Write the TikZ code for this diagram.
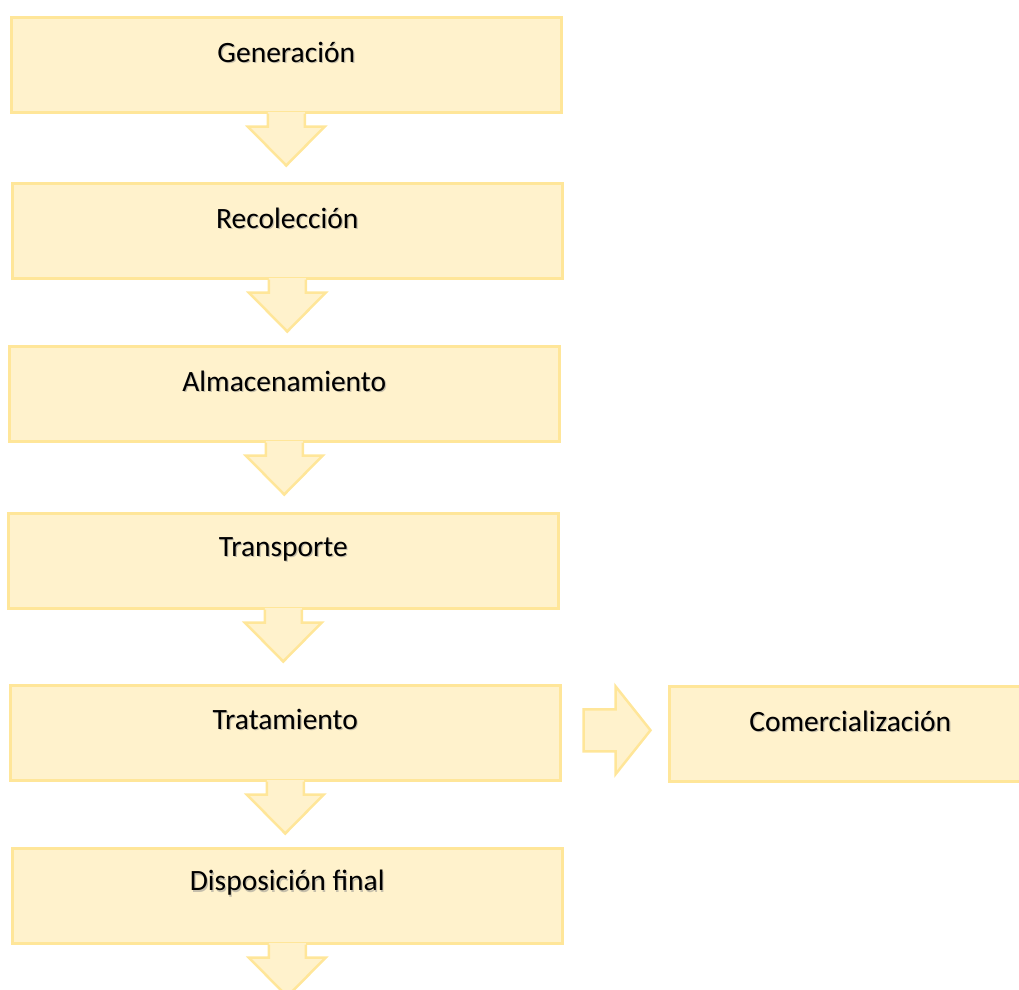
\documentclass[tikz,border=0pt]{standalone}
\usepackage{fontspec}
\setmainfont{Carlito}
\usetikzlibrary{calc}
\definecolor{boxfill}{HTML}{FFF2CC}
\definecolor{boxline}{HTML}{FFE699}
\newcommand\downblock[1]{%
  \fill[boxfill] ($(#1.south)+(-18.5,-1.3)$) -- ($(#1.south)+(-18.5,13)$) -- ($(#1.south)+(-38.5,13)$) -- ($(#1.south)+(0,52)$) -- ($(#1.south)+(38.5,13)$) -- ($(#1.south)+(18.5,13)$) -- ($(#1.south)+(18.5,-1.3)$) -- cycle;
  \draw[arrowline] ($(#1.south)+(-18.5,0)$) -- ($(#1.south)+(-18.5,13)$) -- ($(#1.south)+(-38.5,13)$) -- ($(#1.south)+(0,52)$) -- ($(#1.south)+(38.5,13)$) -- ($(#1.south)+(18.5,13)$) -- ($(#1.south)+(18.5,0)$);
}
\newcommand\stagelabel[4]{%
  \node[stagetext, text=black!45, opacity=0.5] (#1s) at ($(#2.north)+(1.2,#3+1.2)$) {#4};
  \node[stagetext] (#1) at ($(#2.north)+(0,#3)$) {#4};
}
\begin{document}
\begin{tikzpicture}[x=1pt,y=-1pt,
  stage/.style={draw=boxline, fill=boxfill, line width=2.5pt, minimum width=550pt, minimum height=95pt, inner sep=0pt, anchor=north west},
  stagetext/.style={font=\fontsize{29.5}{33}\selectfont, text=black, inner sep=0pt},
  arrowline/.style={draw=boxline, line width=2.5pt, line join=miter},
  blockarrow/.style={draw=boxline, fill=boxfill, line width=2.5pt, line join=miter}]
\useasboundingbox (0,0) rectangle (1019,989);
\clip (0,0) rectangle (1019,989);
\node[stage] (b1) at (10,16) {};
\node[stage] (b2) at (11,182) {};
\node[stage] (b3) at (8,345) {};
\node[stage] (b4) at (7,512) {};
\node[stage] (b5) at (9,684) {};
\node[stage] (b6) at (11,847) {};
\node[stage, minimum width=362pt] (b7) at (668,685) {};
\downblock{b1}
\downblock{b2}
\downblock{b3}
\downblock{b4}
\downblock{b5}
\downblock{b6}
\coordinate (ra) at ($(b5.east)+(22,-2.5)$);
\draw[blockarrow] ($(ra)+(0,-21)$) -- ($(ra)+(32,-21)$) -- ($(ra)+(32,-44)$) -- ($(ra)+(67,0)$) -- ($(ra)+(32,44)$) -- ($(ra)+(32,21)$) -- ($(ra)+(0,21)$) -- cycle;
\stagelabel{t1}{b1}{36}{Generación}
\stagelabel{t2}{b2}{36}{Recolección}
\stagelabel{t3}{b3}{36}{Almacenamiento}
\stagelabel{t4}{b4}{37}{Transporte}
\stagelabel{t5}{b5}{35}{Tratamiento}
\stagelabel{t6}{b6}{36}{Disposición final}
\stagelabel{t7}{b7}{36}{Comercialización}
\end{tikzpicture}
\end{document}
